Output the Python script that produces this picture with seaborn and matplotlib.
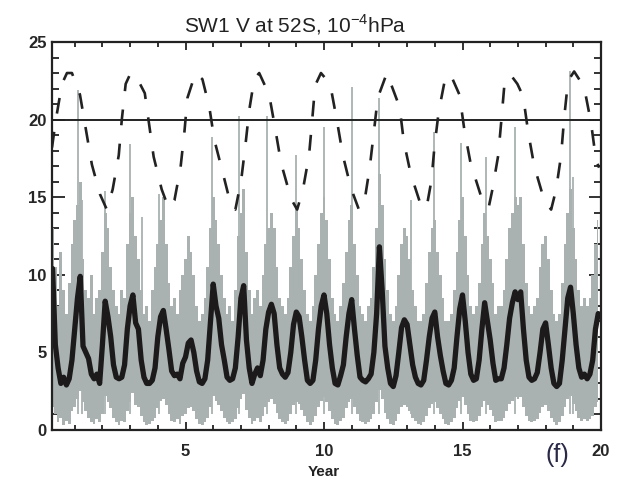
import numpy as np
import pandas as pd
import matplotlib
matplotlib.use("Agg")
import matplotlib.pyplot as plt
import seaborn as sns
from matplotlib.ticker import MultipleLocator

sns.set_style("ticks")
plt.rcParams['font.family'] = ['Liberation Sans', 'DejaVu Sans']

# sample grid for the daily (gray) and smoothed (black) series, every 0.1 yr
t = 0.2 + 0.1 * np.arange(198)

black_v = [
    10.4, 5.5, 4.0, 3.0, 3.4, 2.9, 3.3, 4.5,
    6.5, 8.5, 9.9, 5.4, 5.0, 4.6, 3.6, 3.3, 3.6, 3.0,
    5.5, 8.3, 7.3, 6.0, 4.2, 3.4, 3.3, 3.4, 4.2, 6.5,
    8.0, 8.7, 6.9, 6.5, 4.5, 3.4, 3.0, 3.0, 3.2, 4.0,
    6.0, 7.3, 7.7, 6.5, 5.2, 3.8, 3.5, 3.6, 3.3, 4.3,
    4.7, 5.6, 5.8, 5.0, 3.8, 3.1, 3.0, 3.3, 4.5, 7.0,
    9.4, 8.0, 7.2, 5.5, 4.5, 3.4, 3.2, 3.3, 4.0, 6.0,
    8.5, 9.3, 5.8, 4.0, 3.0, 3.6, 4.0, 3.5, 4.5, 6.5,
    7.6, 8.1, 7.5, 5.5, 4.0, 3.6, 3.4, 3.7, 5.0, 6.8,
    7.6, 7.3, 6.0, 4.5, 3.2, 3.0, 3.2, 4.5, 6.5, 8.0,
    8.7, 7.5, 5.5, 4.0, 3.0, 2.9, 3.5, 4.2, 6.0, 7.5,
    8.4, 6.5, 4.8, 3.4, 3.2, 3.1, 3.3, 3.6, 5.0, 7.5,
    11.8, 9.0, 5.4, 4.0, 3.0, 2.8, 3.5, 5.0, 6.6, 7.1,
    6.8, 5.5, 4.2, 3.4, 3.0, 2.9, 3.2, 4.5, 6.0, 7.2,
    7.6, 6.0, 4.8, 3.8, 3.0, 2.9, 3.2, 4.0, 6.0, 7.8,
    8.7, 7.0, 5.0, 3.6, 3.2, 3.3, 4.5, 6.5, 8.2, 7.0,
    5.8, 4.3, 3.2, 3.3, 3.3, 4.0, 5.5, 7.2, 8.2, 8.9,
    8.4, 8.9, 6.5, 4.5, 3.4, 3.2, 3.3, 3.7, 5.0, 6.5,
    6.9, 5.5, 4.0, 3.0, 2.8, 3.0, 4.5, 6.5, 8.5, 9.2,
    7.5, 5.5, 4.0, 3.4, 3.6, 3.3, 3.6, 4.5, 6.5, 7.5,
]

gray_hi = [
    13.0, 10.5, 8.0, 11.5, 9.0, 7.5, 9.5, 12.0,
    13.5, 14.5, 16.0, 11.0, 9.0, 8.5, 10.0, 7.5, 8.5, 9.0,
    11.5, 14.0, 13.0, 10.5, 9.0, 8.0, 7.5, 9.0, 8.5, 12.0,
    14.0, 15.0, 12.5, 11.0, 9.0, 7.5, 8.0, 7.0, 9.0, 10.5,
    12.0, 13.5, 15.0, 12.0, 9.5, 8.0, 8.5, 7.5, 9.0, 10.0,
    11.0, 12.5, 11.5, 10.0, 8.0, 7.0, 7.5, 8.5, 10.5, 13.0,
    15.0, 13.5, 12.0, 10.0, 8.5, 7.5, 8.0, 7.0, 9.0, 12.5,
    14.0, 15.5, 11.5, 9.0, 7.5, 8.5, 9.0, 8.0, 10.0, 12.0,
    13.0, 14.0, 13.0, 10.5, 8.5, 8.0, 7.5, 8.5, 10.5, 12.5,
    14.5, 13.0, 11.0, 9.0, 7.5, 7.0, 8.0, 10.0, 12.0, 14.0,
    15.0, 13.5, 11.0, 8.5, 7.5, 7.0, 8.0, 9.5, 11.5, 13.5,
    14.5, 12.0, 10.0, 8.0, 7.5, 7.0, 8.0, 8.5, 10.5, 13.0,
    16.5, 14.5, 11.0, 9.0, 7.5, 7.0, 8.0, 10.0, 12.0, 13.0,
    12.5, 11.0, 9.0, 8.0, 7.0, 7.0, 7.5, 9.5, 11.5, 13.0,
    13.5, 11.5, 10.0, 8.5, 7.0, 7.0, 7.5, 9.0, 11.5, 13.5,
    15.0, 12.5, 10.0, 8.0, 7.5, 8.0, 9.5, 12.0, 14.0, 12.5,
    11.0, 9.5, 7.5, 8.0, 8.0, 9.0, 11.0, 13.0, 14.0, 15.0,
    14.5, 15.0, 12.0, 9.5, 8.0, 7.5, 8.0, 8.5, 10.5, 12.0,
    12.5, 11.0, 9.0, 7.5, 7.0, 7.5, 9.5, 12.0, 14.0, 15.5,
    13.0, 11.0, 9.0, 8.0, 8.5, 8.0, 8.5, 10.0, 12.0, 13.5,
]

gray_lo = [
    1.5, 1.0, 0.5, 0.8, 0.3, 0.6, 0.4, 1.2,
    1.5, 2.0, 2.5, 1.8, 1.2, 0.8, 0.5, 0.4, 0.7, 0.5,
    1.0, 2.2, 1.8, 1.4, 0.8, 0.5, 0.3, 0.6, 0.5, 1.2,
    1.8, 2.4, 1.6, 1.5, 0.9, 0.5, 0.3, 0.4, 0.6, 0.8,
    1.4, 1.9, 2.0, 1.6, 1.0, 0.6, 0.5, 0.7, 0.4, 0.9,
    1.0, 1.4, 1.5, 1.2, 0.7, 0.4, 0.3, 0.5, 0.8, 1.5,
    2.2, 1.9, 1.6, 1.2, 0.8, 0.5, 0.4, 0.5, 0.7, 1.4,
    2.0, 2.3, 1.3, 0.8, 0.4, 0.6, 0.8, 0.5, 0.9, 1.5,
    1.8, 2.0, 1.7, 1.1, 0.7, 0.5, 0.4, 0.6, 1.0, 1.6,
    1.8, 1.7, 1.3, 0.9, 0.5, 0.3, 0.5, 0.9, 1.5, 1.9,
    2.1, 1.8, 1.2, 0.7, 0.4, 0.3, 0.6, 0.8, 1.4, 1.8,
    2.0, 1.5, 1.0, 0.6, 0.5, 0.4, 0.5, 0.7, 1.0, 1.8,
    2.6, 2.0, 1.1, 0.7, 0.4, 0.3, 0.6, 1.0, 1.5, 1.6,
    1.5, 1.2, 0.8, 0.6, 0.4, 0.3, 0.5, 0.9, 1.4, 1.7,
    1.8, 1.4, 1.0, 0.7, 0.4, 0.3, 0.5, 0.8, 1.4, 1.9,
    2.1, 1.6, 1.0, 0.6, 0.5, 0.6, 0.9, 1.5, 1.9, 1.6,
    1.3, 0.9, 0.5, 0.6, 0.6, 0.8, 1.2, 1.7, 1.9, 2.1,
    2.0, 2.1, 1.5, 0.9, 0.6, 0.5, 0.6, 0.7, 1.1, 1.5,
    1.6, 1.2, 0.8, 0.5, 0.3, 0.5, 0.9, 1.5, 2.0, 2.2,
    1.7, 1.2, 0.8, 0.6, 0.7, 0.6, 0.7, 0.9, 1.5, 1.8,
]

# tall single-day spikes in the gray series
spike_year = [1.12, 1.25, 2.09, 2.99, 3.42, 4.06, 5.97, 6.94, 7.95, 8.99,
              10.0, 11.0, 11.98, 13.13, 13.96, 14.93, 15.86, 16.91, 18.88, 18.99]
spike_val = [21.9, 14.8, 15.4, 18.4, 13.7, 15.2, 18.9, 20.2, 20.2, 17.7,
             19.5, 22.1, 21.4, 14.8, 19.2, 18.5, 17.6, 19.5, 23.1, 16.3]

# dashed curve (second series)
dash_year = [0.18, 0.32, 0.54, 0.72, 0.90, 1.19, 1.40, 1.62, 1.91, 2.16,
             2.37, 2.59, 2.70, 2.84, 3.02, 3.27, 3.53, 3.67, 3.85, 4.14,
             4.39, 4.60, 4.82, 4.96, 5.07, 5.36, 5.61, 5.86, 6.04, 6.37,
             6.65, 6.80, 7.01, 7.16, 7.30, 7.48, 7.66, 8.02, 8.24, 8.45,
             8.81, 9.03, 9.24, 9.46, 9.57, 9.68, 9.89, 10.22, 10.47, 10.68,
             10.97, 11.26, 11.44, 11.65, 11.80, 11.94, 12.27, 12.73, 12.88, 13.13,
             13.53, 13.71, 13.88, 13.99, 14.14, 14.39, 14.57, 14.89, 15.07, 15.29,
             15.68, 15.94, 16.08, 16.29, 16.40, 16.51, 16.73, 16.98, 17.19, 17.37,
             17.59, 17.95, 18.20, 18.38, 18.56, 18.67, 18.81, 19.03, 19.39, 19.64,
             19.82, 19.93]
dash_val = [18.2, 20.0, 22.3, 23.0, 23.0, 21.6, 19.4, 17.1, 15.2, 14.2,
            15.5, 17.7, 20.0, 22.3, 23.0, 22.6, 21.7, 19.9, 17.6, 15.5,
            14.3, 14.8, 16.9, 19.2, 21.4, 23.0, 22.6, 20.8, 18.7, 16.4,
            14.4, 14.2, 16.1, 18.3, 20.6, 22.6, 23.0, 21.6, 19.4, 17.2,
            14.9, 14.2, 15.5, 17.7, 19.9, 22.2, 23.0, 22.3, 19.9, 17.7,
            15.6, 14.2, 14.5, 16.9, 19.2, 21.4, 23.0, 20.8, 18.6, 16.5,
            14.3, 14.4, 16.1, 18.3, 20.5, 22.8, 22.9, 21.6, 19.3, 17.2,
            15.0, 14.3, 15.5, 17.7, 19.9, 22.2, 22.9, 22.3, 21.5, 19.2,
            17.0, 14.8, 14.2, 15.5, 17.7, 20.1, 22.5, 23.1, 22.1, 19.8,
            17.4, 16.9]

gray_col = '#a9b1b1'

gray_df = pd.DataFrame({'year': t, 'lo': gray_lo, 'hi': gray_hi})
black_df = pd.DataFrame({'year': t, 'v': black_v})
dash_df = pd.DataFrame({'year': dash_year, 'v': dash_val})

fig = plt.figure(figsize=(6.25, 4.82), dpi=100)
ax = fig.add_axes([0.0832, 0.1079, 0.8784, 0.805])

# gray daily band + isolated spikes
ax.fill_between(gray_df['year'], gray_df['lo'], gray_df['hi'], step='mid',
                color=gray_col, linewidth=0)
ax.vlines(spike_year, 1.0, spike_val, color=gray_col, linewidth=1.3)

sns.lineplot(data=black_df, x='year', y='v', sort=False, estimator=None,
             color='#1c1a1a', linewidth=3.8, ax=ax)
sns.lineplot(data=dash_df, x='year', y='v', sort=False, estimator=None,
             color='#222222', linewidth=1.9, ax=ax)
ax.lines[-1].set_dashes((6, 7))
ax.axhline(20, color='#222222', linewidth=1.4)

ax.set_xlim(0.18, 20.0)
ax.set_ylim(0, 25)
ax.xaxis.set_major_locator(MultipleLocator(5))
ax.xaxis.set_minor_locator(MultipleLocator(1))
ax.yaxis.set_major_locator(MultipleLocator(5))
ax.yaxis.set_minor_locator(MultipleLocator(1))
ax.set_xlabel('')
ax.set_ylabel('')

for s in ax.spines.values():
    s.set_linewidth(1.6)
    s.set_color('#222222')
    s.set_visible(True)

ax.tick_params(which='both', direction='in', top=True, right=True,
               width=1.3, color='#222222')
ax.tick_params(axis='x', which='major', length=6, pad=10)
ax.tick_params(axis='x', which='minor', length=3.5)
ax.tick_params(axis='y', which='major', length=9, pad=4)
ax.tick_params(axis='y', which='minor', length=5)
ax.set_xticks([5, 10, 15, 20])
ax.set_xticklabels(['5', '10', '15', '20'], fontweight='bold', fontsize=12)
for lab in ax.get_yticklabels():
    lab.set_fontweight('bold')
    lab.set_fontsize(12)

fig.text(0.472, 1 - 25 / 482, r'SW1 V at 52S, 10$^{\mathregular{-4}}$hPa',
         ha='center', va='center', fontsize=15, color='#222222')
fig.text(324 / 625, 1 - 472 / 482, 'Year', ha='center', va='center',
         fontsize=11, fontweight='bold', color='#222222')
fig.text(557 / 625, 1 - 455 / 482, '(f)', ha='center', va='center',
         fontsize=18, color='#2a2a48')

fig.savefig('out.png', dpi=100)
